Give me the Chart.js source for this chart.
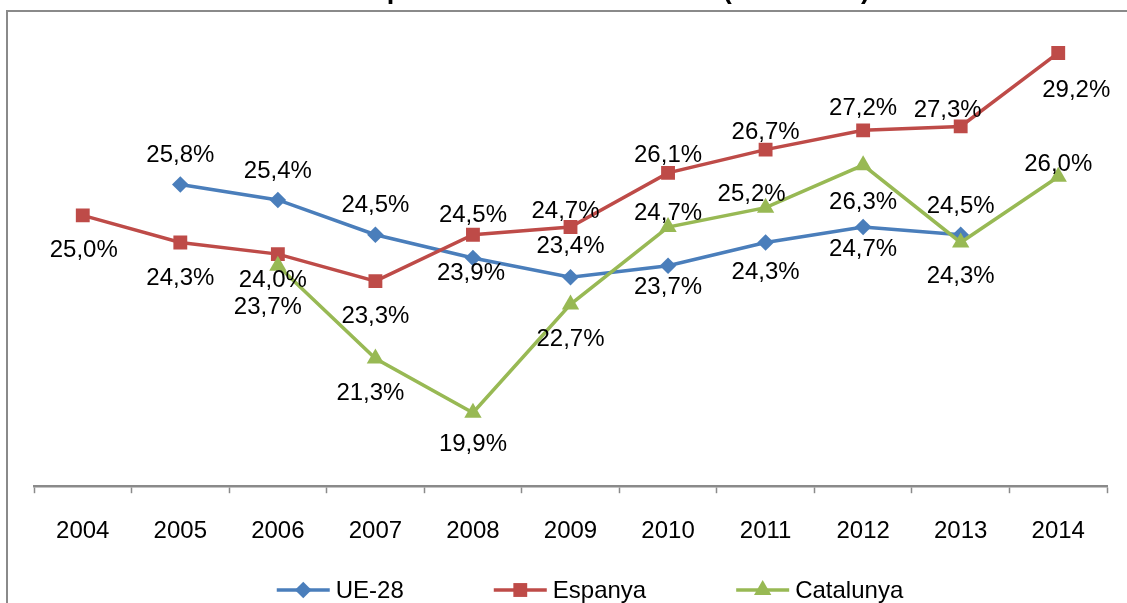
<!DOCTYPE html>
<html>
<head>
<meta charset="utf-8">
<script src="https://cdn.jsdelivr.net/npm/chart.js@4.4.1/dist/chart.umd.min.js"></script>
<style>
  html, body { margin: 0; padding: 0; background: #fff; overflow: hidden; }
  #wrap { width: 1127px; height: 603px; position: relative; }
</style>
</head>
<body>
<div id="wrap"><canvas id="c" width="1127" height="603"></canvas></div>
<script>
// Rates (%) per year
const years = ['2004', '2005', '2006', '2007', '2008', '2009', '2010', '2011', '2012', '2013', '2014'];
const ue28 = [null, 25.8, 25.4, 24.5, 23.9, 23.4, 23.7, 24.3, 24.7, 24.5, null];
const espanya = [25.0, 24.3, 24.0, 23.3, 24.5, 24.7, 26.1, 26.7, 27.2, 27.3, 29.2];
const catalunya = [null, null, 23.7, 21.3, 19.9, 22.7, 24.7, 25.2, 26.3, 24.3, 26.0];

const seriesNames = ['UE-28', 'Espanya', 'Catalunya'];
const titleText = 'Taxa de risc de pobresa o exclusió social (2004-2014)';

// Value label placement around each point [dx, dy]
const labelOffsets = [
  [null, [0, -29], [0, -29], [0, -29], [-2, 15], [0, -31], [0, 22], [0, 30], [0, 22], [0, -28], null],
  [[1, 35], [0, 36], [-5, 26], [0, 35], [0, -19], [-5, -16], [0, -17], [0, -17], [0, -22], [-13, -16], [18, 37]],
  [null, null, [-10, 42], [-5, 35], [0, 32], [0, 35], [0, -14], [-14, -13], [0, 37], [0, 34], [0, -12]]
];

const FONT = '"Liberation Sans", Arial, Helvetica, sans-serif';
const colors = ['#4A7EBB', '#BE4B48', '#98B954'];
const pointStyles = ['rectRot', 'rect', 'triangle'];
const pointRadii = [8.3, 9.8, 10];

const fmt = v => v.toFixed(1).replace('.', ',') + '%';

function drawMarker(ctx, style, x, y, r, color) {
  ctx.save();
  ctx.fillStyle = color;
  ctx.beginPath();
  if (style === 'rectRot') {
    ctx.moveTo(x - r, y); ctx.lineTo(x, y - r); ctx.lineTo(x + r, y); ctx.lineTo(x, y + r);
  } else if (style === 'rect') {
    const s = r * Math.SQRT1_2;
    ctx.rect(x - s, y - s, 2 * s, 2 * s);
  } else {
    const w = r * Math.sqrt(3) / 2;
    ctx.moveTo(x, y - r); ctx.lineTo(x + w, y + r / 2); ctx.lineTo(x - w, y + r / 2);
  }
  ctx.closePath();
  ctx.fill();
  ctx.restore();
}

// Frame, clipped heading, value labels and legend
const decorations = {
  id: 'decorations',
  beforeDraw(chart) {
    const ctx = chart.ctx;
    ctx.save();
    ctx.fillStyle = '#ffffff';
    ctx.fillRect(0, 0, chart.width, chart.height);
    ctx.strokeStyle = '#8a8a8a';
    ctx.lineWidth = 2;
    ctx.beginPath();
    ctx.moveTo(7, chart.height + 2);
    ctx.lineTo(7, 11);
    ctx.lineTo(chart.width + 2, 11);
    ctx.stroke();
    ctx.fillStyle = '#000';
    ctx.font = 'bold 27px ' + FONT;
    ctx.textAlign = 'center';
    ctx.textBaseline = 'alphabetic';
    ctx.fillText(titleText, 528, -2);
    ctx.restore();
  },
  afterDatasetsDraw(chart) {
    const ctx = chart.ctx;
    ctx.save();
    ctx.fillStyle = '#000';
    ctx.font = '24px ' + FONT;
    ctx.textAlign = 'center';
    ctx.textBaseline = 'middle';
    chart.data.datasets.forEach((ds, di) => {
      const meta = chart.getDatasetMeta(di);
      ds.data.forEach((v, i) => {
        if (v === null) return;
        const pt = meta.data[i];
        const off = labelOffsets[di][i] || [0, -25];
        ctx.fillText(fmt(v), pt.x + off[0], pt.y + off[1]);
      });
    });
    ctx.restore();
  },
  afterDraw(chart) {
    const ctx = chart.ctx;
    const y = chart.height - 13;
    const lineLen = 53, gapText = 6, gapItem = 90;
    ctx.save();
    ctx.font = '24px ' + FONT;
    ctx.textBaseline = 'middle';
    ctx.textAlign = 'left';
    let total = 0;
    const widths = seriesNames.map(n => ctx.measureText(n).width);
    widths.forEach((w, i) => { total += lineLen + gapText + w + (i < widths.length - 1 ? gapItem : 0); });
    let x = 590 - total / 2;
    seriesNames.forEach((name, i) => {
      ctx.strokeStyle = colors[i];
      ctx.lineWidth = 3.5;
      ctx.beginPath();
      ctx.moveTo(x, y);
      ctx.lineTo(x + lineLen, y);
      ctx.stroke();
      drawMarker(ctx, pointStyles[i], x + lineLen / 2, y, pointRadii[i], colors[i]);
      ctx.fillStyle = '#000';
      ctx.fillText(name, x + lineLen + gapText, y + 1);
      x += lineLen + gapText + widths[i] + gapItem;
    });
    ctx.restore();
  }
};

const seriesData = [ue28, espanya, catalunya];

new Chart(document.getElementById('c'), {
  type: 'line',
  data: {
    labels: years,
    datasets: seriesData.map((d, i) => ({
      label: seriesNames[i],
      data: d,
      borderColor: colors[i],
      backgroundColor: colors[i],
      borderWidth: 3.5,
      pointStyle: pointStyles[i],
      pointRadius: pointRadii[i],
      pointBorderWidth: 0,
      pointBackgroundColor: colors[i],
      tension: 0,
      spanGaps: false,
      order: 3 - i
    }))
  },
  options: {
    responsive: false,
    animation: false,
    devicePixelRatio: 1,
    layout: { padding: { left: 34, right: 20, top: 22, bottom: 33 } },
    plugins: { legend: { display: false }, tooltip: { enabled: false }, title: { display: false } },
    scales: {
      x: {
        offset: true,
        grid: {
          offset: true,
          drawOnChartArea: false,
          drawTicks: true,
          tickLength: 7,
          tickColor: '#8a8a8a',
          tickWidth: 1.5
        },
        border: { display: true, color: '#8a8a8a', width: 2.5 },
        ticks: { color: '#000', font: { family: FONT, size: 24 }, padding: 24, maxRotation: 0, autoSkip: false }
      },
      y: {
        display: false,
        min: 18,
        max: 30
      }
    }
  },
  plugins: [decorations]
});
</script>
</body>
</html>
